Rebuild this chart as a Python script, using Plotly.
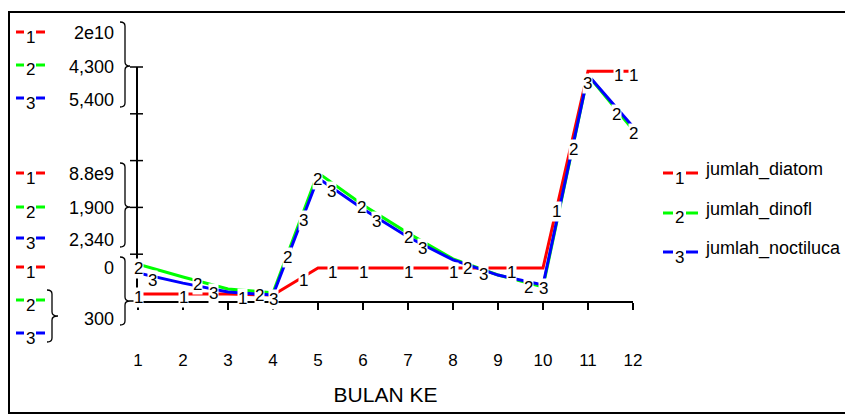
import numpy as np
import plotly.graph_objects as go

# data
bulan = list(range(1, 13))
jumlah_diatom = [6.6e8, 6.6e8, 6.6e8, 5.6e8, 3.1e9, 3.1e9, 3.1e9, 3.1e9, 3.1e9, 3.1e9, 2.16e10, 2.16e10]
jumlah_dinofl = [930, 710, 505, 440, 2490, 1940, 1460, 1020, 745, 540, 4160, 3225]
jumlah_noctiluca = [910, 690, 495, 430, 2980, 2305, 1695, 1195, 865, 650, 5225, 4095]

nama_seri = ["jumlah_diatom", "jumlah_dinofl", "jumlah_noctiluca"]
label_max = ["2e10", "4,300", "5,400"]
label_mid = ["8.8e9", "1,900", "2,340"]
label_min = ["0", "300", "300"]
range_seri = [[0, 2.2e10], [300, 4300], [300, 5400]]

# posisi label angka di sepanjang garis (bulan ke-)
label_x = [
    [1.0, 2.0, 3.33, 4.67, 5.33, 6.0, 7.0, 8.0, 9.31, 10.31, 11.67, 12.0],
    [1.0, 2.33, 3.71, 4.33, 4.98, 5.96, 7.0, 8.33, 9.67, 10.67, 11.64, 12.0],
    [1.33, 2.67, 4.0, 4.67, 5.31, 6.29, 7.33, 8.67, 10.0, 10.98],
]

warna = ["#ff0000", "#00ff00", "#0000ff"]
FONT = "Liberation Sans, Arial, sans-serif"

# halaman html punya margin body 8px
OFF = 8
W, H = 853, 415
# area plot dalam piksel layar
L, R, T, B = 138, 633, 67, 301


def px(x):
    return (x - L) / (R - L)


def py(y):
    return (B - y) / (B - T)


seri = [jumlah_diatom, jumlah_dinofl, jumlah_noctiluca]
yref = ["y", "y2", "y3"]

fig = go.Figure()

# urutan gambar: hijau, biru, merah
for i in [1, 2, 0]:
    fig.add_trace(go.Scatter(
        x=bulan, y=seri[i], name=nama_seri[i], yaxis=yref[i],
        mode="lines", line=dict(color=warna[i], width=3),
    ))

# label angka 1/2/3 pada garis
for i in range(3):
    for lx in label_x[i]:
        fig.add_annotation(
            x=lx, y=float(np.interp(lx, bulan, seri[i])),
            xref="x", yref=yref[i], text=str(i + 1), showarrow=False,
            xanchor="center", yanchor="middle",
            bgcolor="white", borderpad=0, yshift=-4,
            font=dict(size=17, family=FONT, color="black"),
        )

shapes = []

# bingkai luar
shapes.append(dict(type="rect", xref="paper", yref="paper",
                   x0=px(9), x1=px(870), y0=py(413), y1=py(12),
                   line=dict(color="black", width=2)))

# tick sumbu y (menyilang)
for f in [0, 0.2, 0.4, 0.6, 0.8, 1.0]:
    shapes.append(dict(type="line", xref="paper", yref="paper",
                       x0=px(130), x1=px(143), y0=f, y1=f,
                       line=dict(color="black", width=1.5)))


def kurung(x0, xm, xt, yt, ym, yb, r=4):
    p = (f"M {px(x0)},{py(yt)} Q {px(xm)},{py(yt)} {px(xm)},{py(yt + r)} "
         f"L {px(xm)},{py(ym - r)} Q {px(xm)},{py(ym)} {px(xt)},{py(ym)} "
         f"Q {px(xm)},{py(ym)} {px(xm)},{py(ym + r)} "
         f"L {px(xm)},{py(yb - r)} Q {px(xm)},{py(yb)} {px(x0)},{py(yb)}")
    return dict(type="path", xref="paper", yref="paper", path=p,
                line=dict(color="black", width=1.3))


shapes.append(kurung(120, 125, 130, 22, 66, 107))
shapes.append(kurung(120, 125, 130, 163, 207, 247))
shapes.append(kurung(120, 125, 130, 257, 301, 325))
shapes.append(kurung(47, 52, 58, 290, 316, 342))


def teks(x, y, s, anchor="center", size=18):
    fig.add_annotation(x=px(x), y=py(y), xref="paper", yref="paper",
                       text=s, showarrow=False, xanchor=anchor, yanchor="middle",
                       font=dict(size=size, family=FONT, color="black"))


def penanda(xa, xb, xc, xd, y, k):
    # garis pendek - angka - garis pendek
    for a, b in [(xa, xb), (xc, xd)]:
        shapes.append(dict(type="line", xref="paper", yref="paper",
                           x0=px(a), x1=px(b), y0=py(y), y1=py(y),
                           line=dict(color=warna[k], width=3)))
    teks((xb + xc) / 2, y + 5, str(k + 1), size=17)


# label sumbu y gabungan di kiri
baris = [(32, 33, label_max, 0), (65, 67, label_max, 1), (98, 100, label_max, 2),
         (173, 174, label_mid, 0), (207, 208, label_mid, 1), (238, 240, label_mid, 2),
         (267, 268, label_min, 0), (300, None, label_min, 1), (333, None, label_min, 2)]
for yd, yt, lab, k in baris:
    penanda(16, 24, 36, 45, yd, k)
    if yt is not None:
        teks(116, yt, lab[k], "right")
teks(116, 319, label_min[1], "right")

# legenda kanan
for k, yd in enumerate([173, 213, 252]):
    penanda(663, 673, 686, 698, yd, k)
    teks(703, yd - 4, nama_seri[k], "left")

fig.update_layout(
    width=W - OFF, height=H - OFF,
    margin=dict(l=L - OFF, r=W - R, t=T - OFF, b=H - B),
    plot_bgcolor="white", paper_bgcolor="white",
    showlegend=False,
    font=dict(family=FONT, size=17, color="black"),
    shapes=shapes,
    xaxis=dict(
        range=[1, 12], tickvals=bulan, ticktext=[str(b) for b in bulan],
        showline=True, linecolor="black", linewidth=2,
        ticks="outside", ticklen=7, tickwidth=1.5, tickcolor="black",
        showgrid=False, zeroline=False, ticklabelstandoff=36,
        title=dict(text="BULAN KE", font=dict(size=21), standoff=18),
    ),
    yaxis=dict(range=range_seri[0], showline=True, linecolor="black", linewidth=2,
               showticklabels=False, ticks="", showgrid=False, zeroline=False),
    yaxis2=dict(range=range_seri[1], overlaying="y", visible=False),
    yaxis3=dict(range=range_seri[2], overlaying="y", visible=False),
)

fig.write_html("out.html")
